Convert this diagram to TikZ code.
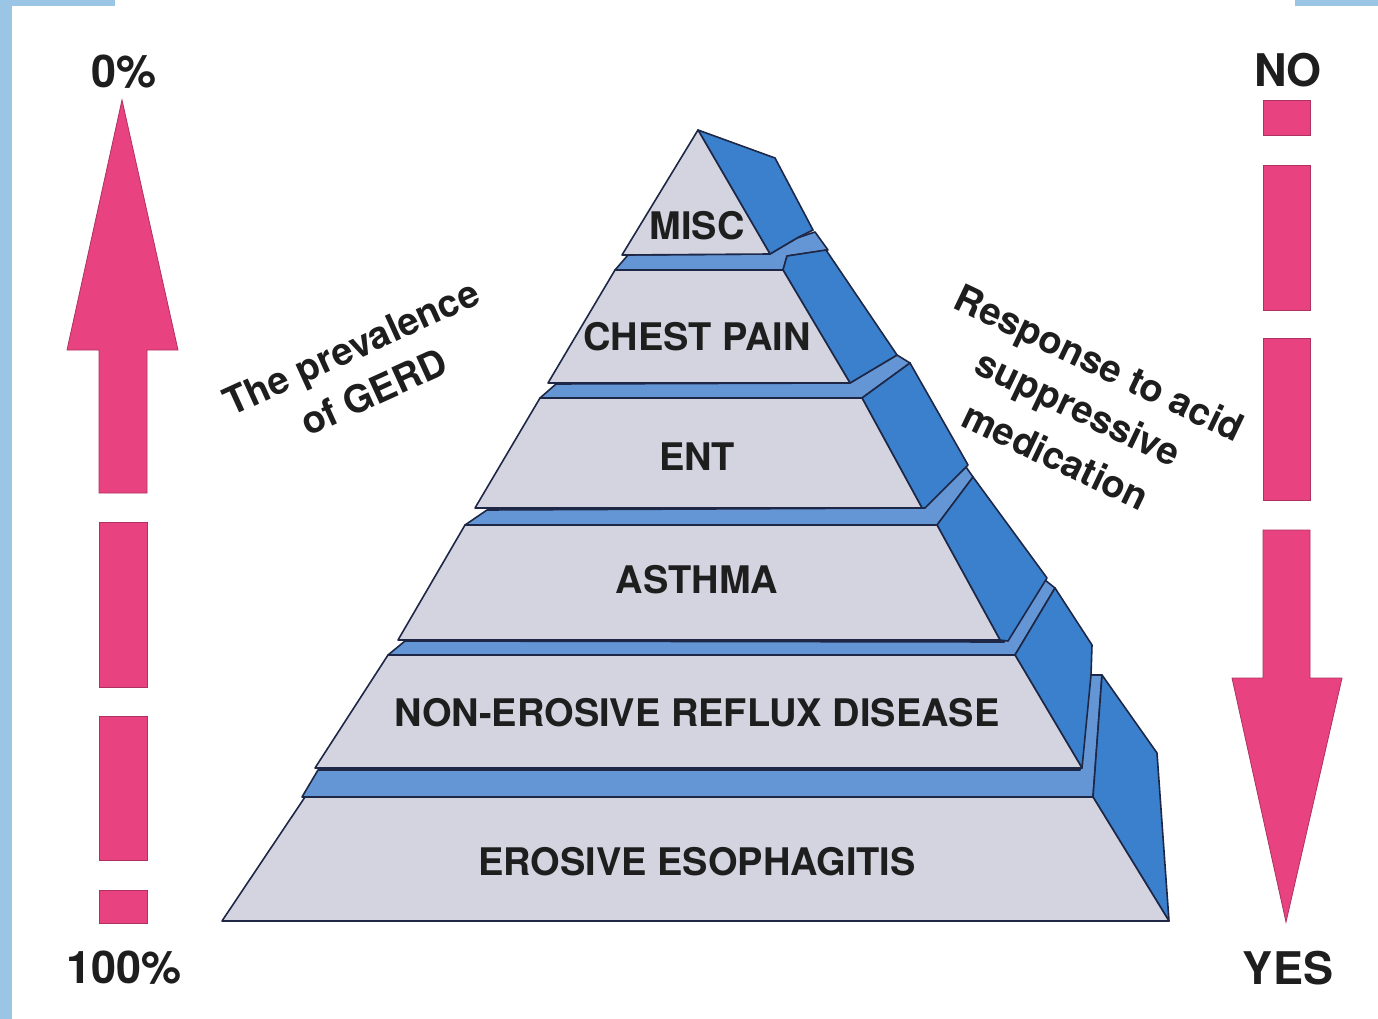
\documentclass[tikz,border=0pt]{standalone}
\usepackage{fontspec}
\setmainfont{TeX Gyre Heros}
\definecolor{frontc}{RGB}{212,212,225}
\definecolor{sidec}{RGB}{58,128,205}
\definecolor{topc}{RGB}{100,150,214}
\definecolor{edgec}{RGB}{30,40,70}
\definecolor{pinkc}{RGB}{232,67,128}
\definecolor{framec}{RGB}{155,197,229}
\definecolor{txtc}{RGB}{30,30,30}
\tikzset{
  frontf/.style={fill=frontc, draw=edgec, line width=1.6pt, line join=round},
  sidef/.style={fill=sidec, draw=edgec, line width=1.6pt, line join=round},
  topf/.style={fill=topc, draw=edgec, line width=1.6pt, line join=round},
  pinkbar/.style={fill=pinkc, draw=pinkc!75!black, line width=0.8pt},
  lbl/.style={font=\fontsize{38}{40}\selectfont\bfseries, text=txtc, inner sep=0pt},
  biglbl/.style={font=\fontsize{45}{48}\selectfont\bfseries, text=txtc, inner sep=0pt},
  rotlbl/.style={font=\fontsize{38}{40}\selectfont\bfseries, text=txtc, inner sep=0pt}
}
\begin{document}
\begin{tikzpicture}[x=1pt,y=-1pt]
\useasboundingbox (0,0) rectangle (1378,1019);
\fill[white] (0,0) rectangle (1378,1019);
% frame pieces
\fill[framec] (0,0) rectangle (12,1019);
\fill[framec] (0,0) rectangle (115,6);
\fill[framec] (1295,0) rectangle (1378,6);

% ---------- pyramid (bottom to top) ----------
% layer 6: erosive esophagitis
\draw[topf] (302,797) -- (1093,797) -- (1102,675) -- (1090,675) -- (1080,770) -- (318,770) -- cycle;
\draw[sidef] (1093,797) -- (1102,675) -- (1157,753) -- (1169,921) -- cycle;
\draw[frontf] (222,921) -- (1169,921) -- (1093,797) -- (305,797) -- cycle;
% layer 5: non-erosive
\draw[topf] (388,655) -- (1015,655) -- (1055,588) -- (1045,580) -- (1004,642) -- (405,641) -- cycle;
\draw[sidef] (1015,655) -- (1055,588) -- (1092,645) -- (1091,675) -- (1082,768) -- cycle;
\draw[frontf] (315,768) -- (1082,768) -- (1015,655) -- (388,655) -- cycle;
% layer 4: asthma
\draw[topf] (465,525) -- (937,525) -- (973,477) -- (966,467) -- (922,508) -- (487,510) -- cycle;
\draw[sidef] (937,525) -- (973,477) -- (1047,578) -- (1008,641) -- (1000,640) -- cycle;
\draw[frontf] (398,640) -- (1000,640) -- (937,525) -- (465,525) -- cycle;
% layer 3: ENT
\draw[topf] (540,398) -- (862,398) -- (910,363) -- (897,355) -- (850,383) -- (556,384) -- cycle;
\draw[sidef] (862,398) -- (910,363) -- (968,465) -- (925,508) -- (922,508) -- cycle;
\draw[frontf] (475,508) -- (922,508) -- (862,398) -- (540,398) -- cycle;
% layer 2: chest pain
\draw[topf] (615,270) -- (783,270) -- (787,256) -- (828,250) -- (815,232) -- (797,238) -- (770,254) -- (628,255) -- cycle;
\draw[sidef] (783,270) -- (787,256) -- (826,250) -- (897,355) -- (850,383) -- cycle;
\draw[frontf] (548,383) -- (850,383) -- (783,270) -- (615,270) -- cycle;
% layer 1: misc
\draw[sidef] (698,130) -- (775,158) -- (813,230) -- (797,238) -- (770,254) -- cycle;
\draw[frontf] (698,130) -- (770,254) -- (622,255) -- cycle;

% layer labels
\node[lbl] (misc) at (697,226) {MISC};
\node[lbl] (chest) at (697,337) {CHEST PAIN};
\node[lbl] (ent) at (697,457) {ENT};
\node[lbl] (asthma) at (697,580) {ASTHMA};
\node[lbl] (nerd) at (697,713) {NON-EROSIVE REFLUX DISEASE};
\node[lbl] (ee) at (697,862) {EROSIVE ESOPHAGITIS};

% ---------- left arrow (up) ----------
\draw[pinkbar] (122,100) -- (178,350) -- (147,350) -- (147,493) -- (99,493) -- (99,350) -- (67,350) -- cycle;
\draw[pinkbar] (99,522) rectangle (147,687);
\draw[pinkbar] (99,716) rectangle (147,860);
\draw[pinkbar] (99,890) rectangle (147,923);
\node[biglbl] (zero) at (124,72) {0\%};
\node[biglbl] (hundred) at (124,968) {100\%};

% ---------- right arrow (down) ----------
\draw[pinkbar] (1263,100) rectangle (1310,135);
\draw[pinkbar] (1263,165) rectangle (1310,310);
\draw[pinkbar] (1263,338) rectangle (1310,500);
\draw[pinkbar] (1263,530) -- (1310,530) -- (1310,678) -- (1342,678) -- (1286,922) -- (1232,678) -- (1263,678) -- cycle;
\node[biglbl] (no) at (1288,70) {NO};
\node[biglbl] (yes) at (1288,968) {YES};

% ---------- rotated captions ----------
\node[rotlbl, rotate=24.5] (prev1) at (353,351) {The prevalence};
\node[rotlbl, rotate=24.5] (prev2) at (374,392) {of GERD};
\node[rotlbl, rotate=-25.5] (resp1) at (1098,366) {Response to acid};
\node[rotlbl, rotate=-25.5] (resp2) at (1077,411) {suppressive};
\node[rotlbl, rotate=-25.5] (resp3) at (1056,456) {medication};
\end{tikzpicture}
\end{document}
